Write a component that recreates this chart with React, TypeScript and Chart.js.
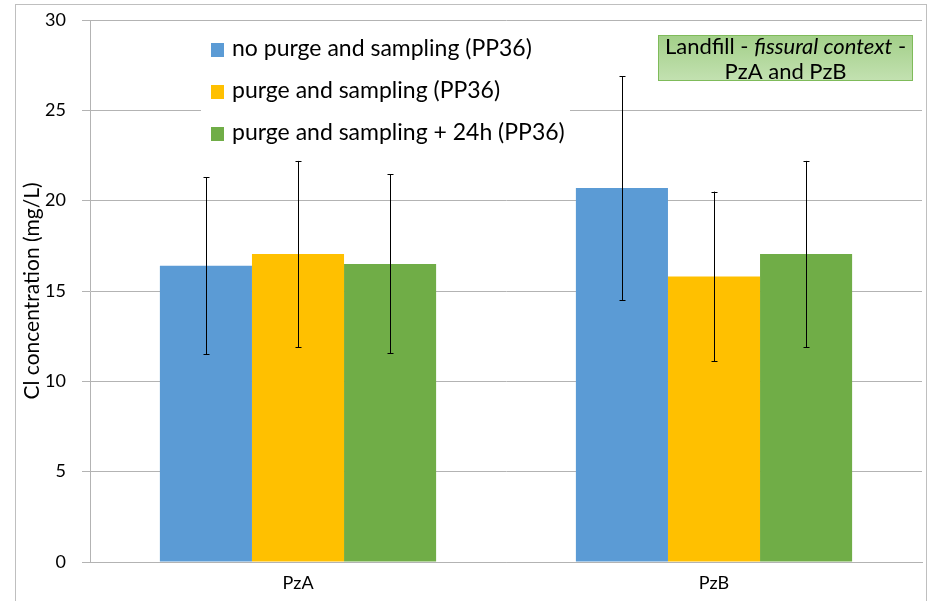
import React, { useEffect, useRef } from "react";
import { Chart, registerables } from "chart.js";

Chart.register(...registerables);

const categories = ["PzA", "PzB"];
const seriesLabels = [
  "no purge and sampling (PP36)",
  "purge and sampling (PP36)",
  "purge and sampling + 24h (PP36)",
];
const seriesColors = ["#5b9bd5", "#ffc000", "#70ad47"];
const noPurge = [16.4, 20.7];
const purge = [17.05, 15.8];
const purge24h = [16.5, 17.05];
const errNoPurge = [4.9, 6.2];
const errPurge = [5.15, 4.7];
const errPurge24h = [4.95, 5.15];
const yTicks = [0, 5, 10, 15, 20, 25, 30];
const yTitle = "Cl concentration (mg/L)";
const noteLine1 = ["Landfill - ", "fissural context", " -"];
const noteLine2 = "PzA and PzB";

const FONT = "Lato";

const errorBarPlugin = {
  id: "errorBars",
  afterDatasetsDraw(chart: any) {
    const ctx = chart.ctx;
    const y = chart.scales.y;
    chart.data.datasets.forEach((ds: any, di: number) => {
      const meta = chart.getDatasetMeta(di);
      meta.data.forEach((bar: any, i: number) => {
        const v = ds.data[i];
        const e = ds.errors[i];
        const yt = y.getPixelForValue(v + e);
        const yb = y.getPixelForValue(v - e);
        const x = Math.round(bar.x) + 0.5;
        ctx.save();
        ctx.strokeStyle = "#000";
        ctx.lineWidth = 1;
        ctx.beginPath();
        ctx.moveTo(x, yt);
        ctx.lineTo(x, yb);
        ctx.moveTo(x - 3, Math.round(yt) + 0.5);
        ctx.lineTo(x + 3, Math.round(yt) + 0.5);
        ctx.moveTo(x - 3, Math.round(yb) + 0.5);
        ctx.lineTo(x + 3, Math.round(yb) + 0.5);
        ctx.stroke();
        ctx.restore();
      });
    });
  },
};

const overlayPlugin = {
  id: "overlay",
  afterDraw(chart: any) {
    const ctx = chart.ctx;
    ctx.save();
    // outer frame
    ctx.strokeStyle = "#bfbfbf";
    ctx.lineWidth = 1;
    ctx.strokeRect(15.5, 4.5, 911, 600);

    // legend box
    ctx.fillStyle = "#ffffff";
    ctx.fillRect(201, 28, 369, 126);
    ctx.font = `23px "${FONT}"`;
    ctx.textBaseline = "middle";
    ctx.textAlign = "left";
    seriesLabels.forEach((lab, i) => {
      const cy = 50 + i * 42;
      ctx.fillStyle = seriesColors[i];
      ctx.fillRect(211, cy - 7, 13, 14);
      ctx.fillStyle = "#000";
      ctx.fillText(lab, 232, cy - 1);
    });

    // note box
    const bx = 658, by = 35, bw = 255, bh = 46;
    const g = ctx.createLinearGradient(0, by, 0, by + bh);
    g.addColorStop(0, "#a2cf88");
    g.addColorStop(1, "#c3e1b1");
    ctx.fillStyle = g;
    ctx.fillRect(bx, by, bw, bh);
    ctx.strokeStyle = "#7fbb5a";
    ctx.strokeRect(bx + 0.5, by + 0.5, bw - 1, bh - 1);
    ctx.fillStyle = "#000";
    const f1 = `22px "${FONT}"`;
    const f2 = `italic 22px "${FONT}"`;
    ctx.font = f1;
    const w0 = ctx.measureText(noteLine1[0]).width;
    const w2 = ctx.measureText(noteLine1[2]).width;
    ctx.font = f2;
    const w1 = ctx.measureText(noteLine1[1]).width;
    let x = bx + bw / 2 - (w0 + w1 + w2) / 2;
    ctx.textAlign = "left";
    ctx.font = f1;
    ctx.fillText(noteLine1[0], x, by + 12);
    x += w0;
    ctx.font = f2;
    ctx.fillText(noteLine1[1], x, by + 12);
    x += w1;
    ctx.font = f1;
    ctx.fillText(noteLine1[2], x, by + 12);
    ctx.textAlign = "center";
    ctx.fillText(noteLine2, bx + bw / 2, by + 37);
    ctx.restore();
  },
};

export default function App() {
  const ref = useRef<HTMLCanvasElement>(null);
  useEffect(() => {
    if (!ref.current) return;
    const datasetsValues = [noPurge, purge, purge24h];
    const errs = [errNoPurge, errPurge, errPurge24h];
    const chart = new Chart(ref.current, {
      type: "bar",
      data: {
        labels: categories,
        datasets: seriesLabels.map((l, i) => ({
          label: l,
          data: datasetsValues[i],
          errors: errs[i],
          backgroundColor: seriesColors[i],
          borderWidth: 0,
          categoryPercentage: 0.664,
          barPercentage: 1,
        })) as any,
      },
      options: {
        animation: false,
        responsive: false,
        maintainAspectRatio: false,
        layout: { padding: { left: 0, right: 7, top: 20, bottom: 0 } },
        plugins: {
          legend: { display: false },
          tooltip: { enabled: false },
        },
        scales: {
          x: {
            grid: { display: false },
            border: { color: "#b3b3b3" },
            ticks: {
              color: "#000",
              font: { family: FONT, size: 18 },
              padding: 2,
            },
            afterFit(s: any) {
              s.height = 39;
              s.paddingLeft = 0;
              s.paddingRight = 0;
            },
          },
          y: {
            min: 0,
            max: 30,
            afterBuildTicks(s: any) {
              s.ticks = yTicks.map((v) => ({ value: v }));
            },
            grid: { color: "#b3b3b3", tickLength: 8 },
            border: { color: "#b3b3b3" },
            ticks: {
              color: "#000",
              font: { family: FONT, size: 18 },
              padding: 16,
            },
            title: {
              display: true,
              text: yTitle,
              color: "#000",
              font: { family: FONT, size: 21 },
              padding: { top: 20, bottom: 0 },
            },
            afterFit(s: any) {
              s.width = 90;
              s.paddingTop = 0;
              s.paddingBottom = 0;
            },
          },
        },
      },
      plugins: [errorBarPlugin, overlayPlugin],
    });
    return () => chart.destroy();
  }, []);
  return (
    <div style={{ position: "absolute", left: 0, top: 0, width: 929, height: 601, background: "#fff" }}>
      <canvas ref={ref} width={929} height={601} style={{ display: "block" }} />
    </div>
  );
}
